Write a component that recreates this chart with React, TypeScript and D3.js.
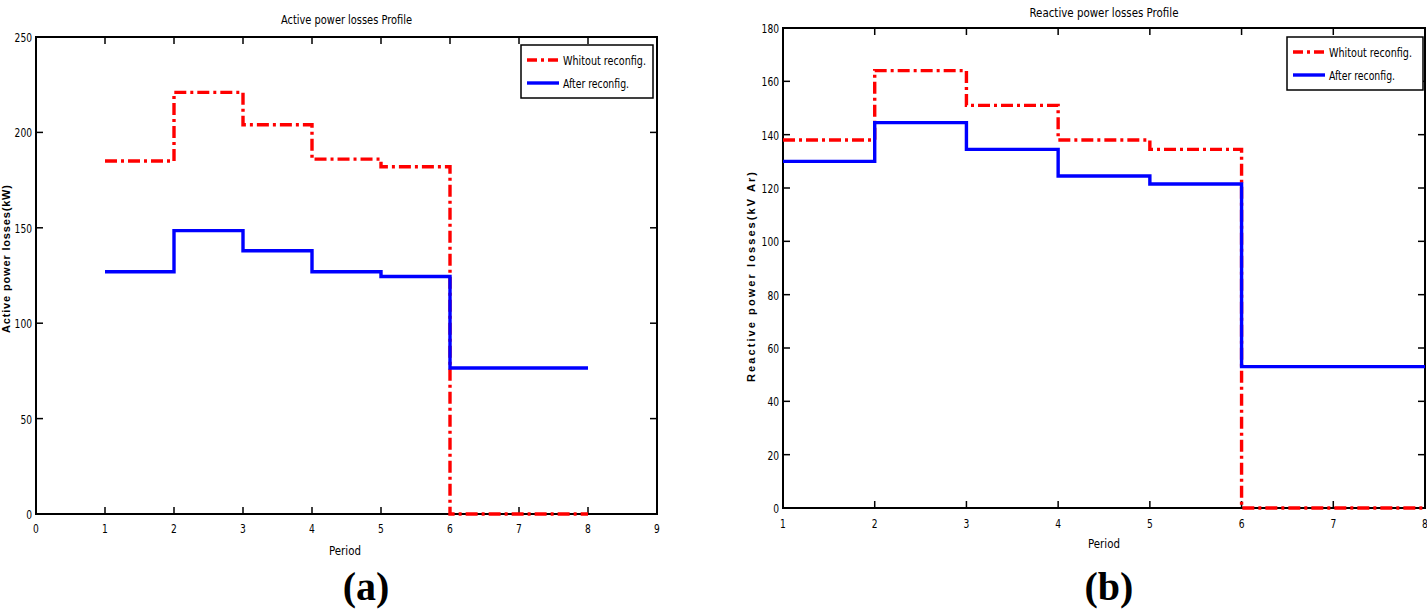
import { useEffect, useRef } from "react";
import * as d3 from "d3";

const periods = [1, 2, 3, 4, 5, 6, 7, 8];
const activeWithout = [185, 221, 204, 186, 182, 0, 0, 0];
const activeAfter = [127, 148.5, 138, 127, 124.5, 76.5, 76.5, 76.5];
const reactiveWithout = [138, 164, 151, 138, 134.5, 0, 0, 0];
const reactiveAfter = [130, 144.5, 134.5, 124.5, 121.5, 53, 53, 53];

const activeXTicks = [0, 1, 2, 3, 4, 5, 6, 7, 8, 9];
const activeYTicks = [0, 50, 100, 150, 200, 250];
const reactiveXTicks = [1, 2, 3, 4, 5, 6, 7, 8];
const reactiveYTicks = [0, 20, 40, 60, 80, 100, 120, 140, 160, 180];

const legendLabels = ["Whitout reconfig.", "After reconfig."];

const NARROW = "'Liberation Sans Narrow', 'DejaVu Sans Condensed', sans-serif";

type Panel = {
  xDomain: [number, number];
  yDomain: [number, number];
  box: { left: number; right: number; top: number; bottom: number };
  xTicks: number[];
  yTicks: number[];
  without: number[];
  after: number[];
  title: string;
  titleY: number;
  titleW: number;
  yLabel: string;
  yLabelX: number;
  yLabelY: number;
  yLabelW: number;
  xTickY: number;
  periodY: number;
  periodX: number;
  legend: { x: number; y: number; w: number; h: number };
  letter: string;
  letterX: number;
};

const App = () => {
  const ref = useRef<SVGSVGElement>(null);

  useEffect(() => {
    const svg = d3.select(ref.current);
    svg.selectAll("*").remove();

    // narrow, tall digits like the matlab export
    const tickText = (
      parent: d3.Selection<SVGGElement, unknown, null, undefined>,
      tx: number,
      ty: number,
      anchor: string,
      label: string
    ) => {
      parent
        .append("text")
        .attr("transform", `translate(${tx},${ty}) scale(0.78,1)`)
        .attr("text-anchor", anchor)
        .style("font-family", NARROW)
        .style("font-size", "13px")
        .text(label);
    };

    const drawPanel = (p: Panel) => {
      const { left, right, top, bottom } = p.box;
      const x = d3.scaleLinear().domain(p.xDomain).range([left, right]);
      const y = d3.scaleLinear().domain(p.yDomain).range([bottom, top]);
      const g = svg.append("g") as any;
      const tickLen = 7;

      // ticks on all four sides, pointing inward
      p.xTicks.forEach((t) => {
        g.append("line")
          .attr("x1", x(t)).attr("x2", x(t))
          .attr("y1", bottom).attr("y2", bottom - tickLen)
          .attr("stroke", "black").attr("stroke-width", 1.5);
        g.append("line")
          .attr("x1", x(t)).attr("x2", x(t))
          .attr("y1", top).attr("y2", top + tickLen)
          .attr("stroke", "black").attr("stroke-width", 1.5);
        tickText(g, x(t), p.xTickY, "middle", String(t));
      });
      p.yTicks.forEach((t) => {
        g.append("line")
          .attr("x1", left).attr("x2", left + tickLen)
          .attr("y1", y(t)).attr("y2", y(t))
          .attr("stroke", "black").attr("stroke-width", 1.5);
        g.append("line")
          .attr("x1", right).attr("x2", right - tickLen)
          .attr("y1", y(t)).attr("y2", y(t))
          .attr("stroke", "black").attr("stroke-width", 1.5);
        tickText(g, left - 4, y(t) + 5, "end", String(t));
      });

      g.append("rect")
        .attr("x", left)
        .attr("y", top)
        .attr("width", right - left)
        .attr("height", bottom - top)
        .attr("fill", "none")
        .attr("stroke", "black")
        .attr("stroke-width", 2);

      const lineGen = d3
        .line<number>()
        .x((_, i) => x(periods[i]))
        .y((d) => y(d))
        .curve(d3.curveStepAfter);

      g.append("path")
        .attr("d", lineGen(p.without) as string)
        .attr("fill", "none")
        .attr("stroke", "#ff0000")
        .attr("stroke-width", 3.4)
        .attr("stroke-dasharray", "12,4,3,4");
      g.append("path")
        .attr("d", lineGen(p.after) as string)
        .attr("fill", "none")
        .attr("stroke", "#0000ff")
        .attr("stroke-width", 3.4);

      // legend
      const lg = p.legend;
      g.append("rect")
        .attr("x", lg.x).attr("y", lg.y)
        .attr("width", lg.w).attr("height", lg.h)
        .attr("fill", "white")
        .attr("stroke", "black")
        .attr("stroke-width", 1.5);
      const rows = [lg.y + 15, lg.y + 38];
      g.append("line")
        .attr("x1", lg.x + 6).attr("x2", lg.x + 38)
        .attr("y1", rows[0]).attr("y2", rows[0])
        .attr("stroke", "#ff0000").attr("stroke-width", 3.4)
        .attr("stroke-dasharray", "10,4,3,4");
      g.append("line")
        .attr("x1", lg.x + 6).attr("x2", lg.x + 38)
        .attr("y1", rows[1]).attr("y2", rows[1])
        .attr("stroke", "#0000ff").attr("stroke-width", 3.4);
      legendLabels.forEach((lab, i) => {
        g.append("text")
          .attr("x", lg.x + 42)
          .attr("y", rows[i] + 5)
          .attr("textLength", i === 0 ? 83 : 66)
          .attr("lengthAdjust", "spacingAndGlyphs")
          .style("font-family", NARROW)
          .style("font-size", "13px")
          .text(lab);
      });

      // title
      g.append("text")
        .attr("x", (left + right) / 2)
        .attr("y", p.titleY)
        .attr("text-anchor", "middle")
        .attr("textLength", p.titleW)
        .attr("lengthAdjust", "spacingAndGlyphs")
        .style("font-family", NARROW)
        .style("font-size", "13px")
        .text(p.title);

      // axis labels
      g.append("text")
        .attr("transform", `translate(${p.yLabelX},${p.yLabelY}) rotate(-90)`)
        .attr("text-anchor", "middle")
        .attr("textLength", p.yLabelW)
        .attr("lengthAdjust", "spacing")
        .style("font-family", "'Liberation Sans', Arial, sans-serif")
        .style("font-weight", "bold")
        .style("font-size", "11px")
        .text(p.yLabel);
      g.append("text")
        .attr("x", p.periodX)
        .attr("y", p.periodY)
        .attr("text-anchor", "middle")
        .attr("textLength", 32)
        .attr("lengthAdjust", "spacingAndGlyphs")
        .style("font-family", NARROW)
        .style("font-size", "13px")
        .text("Period");

      g.append("text")
        .attr("x", p.letterX)
        .attr("y", 600)
        .attr("text-anchor", "middle")
        .style("font-family", "'Liberation Serif', 'Times New Roman', serif")
        .style("font-weight", "bold")
        .style("font-size", "40px")
        .text(p.letter);
    };

    drawPanel({
      xDomain: [0, 9],
      yDomain: [0, 250],
      box: { left: 36, right: 657, top: 37, bottom: 514 },
      xTicks: activeXTicks,
      yTicks: activeYTicks,
      without: activeWithout,
      after: activeAfter,
      title: "Active power losses Profile",
      titleY: 24,
      titleW: 131,
      yLabel: "Active power losses(kW)",
      yLabelX: 10,
      yLabelY: 259,
      yLabelW: 148,
      xTickY: 533,
      periodY: 555,
      periodX: 345,
      legend: { x: 521, y: 45, w: 132, h: 53 },
      letter: "(a)",
      letterX: 366,
    });

    drawPanel({
      xDomain: [1, 8],
      yDomain: [0, 180],
      box: { left: 783, right: 1425, top: 28, bottom: 508 },
      xTicks: reactiveXTicks,
      yTicks: reactiveYTicks,
      without: reactiveWithout,
      after: reactiveAfter,
      title: "Reactive power losses Profile",
      titleY: 17,
      titleW: 149,
      yLabel: "Reactive power losses(kV Ar)",
      yLabelX: 755,
      yLabelY: 277,
      yLabelW: 210,
      xTickY: 528,
      periodY: 548,
      periodX: 1104,
      legend: { x: 1287, y: 37, w: 136, h: 53 },
      letter: "(b)",
      letterX: 1109,
    });
  }, []);

  return (
    <svg
      ref={ref}
      width={1427}
      height={612}
      style={{ position: "absolute", left: 0, top: 0, background: "white" }}
    />
  );
};

export default App;
